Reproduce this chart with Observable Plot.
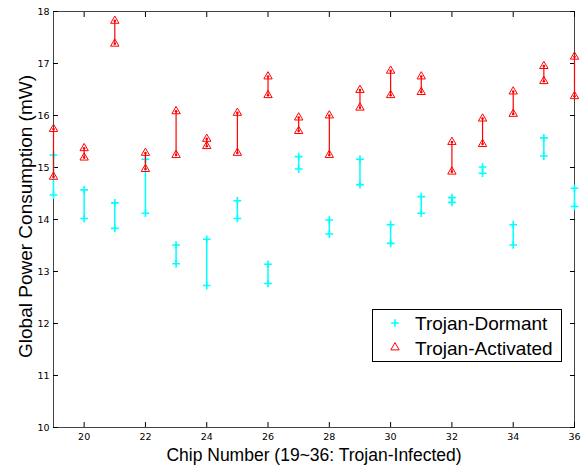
<!DOCTYPE html>
<html><head><meta charset="utf-8">
<script src="https://cdn.jsdelivr.net/npm/d3@7"></script>
<script src="https://cdn.jsdelivr.net/npm/@observablehq/plot@0.6"></script>
<style>
html,body{margin:0;padding:0;background:#fff;}
#chart{position:relative;width:585px;height:466px;}
</style></head><body><div id="chart"></div>
<script>
const chips = [19,20,21,22,23,24,25,26,27,28,29,30,31,32,33,34,35,36];
const dormantMax = [15.24,14.57,14.32,15.16,13.51,13.62,14.36,13.14,15.21,13.99,15.16,13.90,14.44,14.42,15.01,13.90,15.57,14.60];
const dormantMin = [14.47,14.02,13.83,14.12,13.15,12.73,14.02,12.77,14.97,13.72,14.67,13.54,14.12,14.33,14.89,13.51,15.22,14.25];
const activeMax  = [15.74,15.37,17.82,15.28,16.08,15.55,16.05,16.75,15.96,16.00,16.49,16.86,16.75,15.49,15.94,16.46,16.95,17.13];
const activeMin  = [14.82,15.19,17.38,14.97,15.24,15.41,15.28,16.39,15.70,15.24,16.15,16.39,16.45,14.92,15.45,16.03,16.66,16.37];
const xTicks = [20,22,24,26,28,30,32,34,36];
const yTicks = [10,11,12,13,14,15,16,17,18];
const xLabel = "Chip Number (19~36: Trojan-Infected)";
const yLabel = "Global Power Consumption (mW)";
const seriesNames = ["Trojan-Dormant","Trojan-Activated"];

const data = chips.map((c,i)=>({chip:c,dMin:dormantMin[i],dMax:dormantMax[i],aMin:activeMin[i],aMax:activeMax[i]}));
const dPts = data.flatMap(d=>[{chip:d.chip,v:d.dMin},{chip:d.chip,v:d.dMax}]);
const aPts = data.flatMap(d=>[{chip:d.chip,v:d.aMin},{chip:d.chip,v:d.aMax}]);

const CYAN = "#00ffff", RED = "#ff0000";
const sans = "'Liberation Sans', Arial, Helvetica, sans-serif";

const plot = Plot.plot({
  width:585, height:466,
  marginLeft:53, marginRight:11, marginTop:11, marginBottom:39,
  x:{domain:[19,36]}, y:{domain:[10,18]},
  style:{fontFamily:"'DejaVu Sans', sans-serif", fontSize:"9.5px", background:"#fff", color:"#000", overflow:"visible"},
  marks:[
    Plot.frame({stroke:"#444"}),
    Plot.axisX({anchor:"bottom", ticks:xTicks, tickSize:-5, tickPadding:11, label:null}),
    Plot.axisX({anchor:"top", ticks:xTicks, tickSize:-5, tickFormat:()=>"", label:null}),
    Plot.axisY({anchor:"left", ticks:yTicks, tickSize:-5, tickPadding:9, label:null}),
    Plot.axisY({anchor:"right", ticks:yTicks, tickSize:-5, tickFormat:()=>"", label:null}),
    Plot.text([xLabel], {text:d=>d, frameAnchor:"bottom", dy:28, lineAnchor:"middle", textAnchor:"middle", fontSize:17.5, fontFamily:sans}),
    Plot.text([yLabel], {text:d=>d, frameAnchor:"left", rotate:-90, dx:-28, dy:-3, lineAnchor:"middle", textAnchor:"middle", fontSize:19, fontFamily:sans}),
    Plot.ruleX(data, {x:"chip", y1:"dMin", y2:"dMax", stroke:CYAN, strokeWidth:1.5}),
    Plot.dot(dPts, {x:"chip", y:"v", symbol:"plus", r:2.6, stroke:CYAN, strokeWidth:1.6}),
    Plot.ruleX(data, {x:"chip", y1:"aMin", y2:"aMax", stroke:RED, strokeWidth:1.2}),
    Plot.dot(aPts, {x:"chip", y:"v", r:1.3, fill:RED, stroke:null}),
    Plot.dot(aPts, {x:"chip", y:"v", symbol:"triangle2", r:4, stroke:RED, fill:"none", strokeWidth:1})
  ]
});
document.getElementById("chart").appendChild(plot);

// legend
const lg = d3.select("#chart").append("svg").attr("width",191).attr("height",54)
  .style("position","absolute").style("left","372px").style("top","309px");
lg.append("rect").attr("x",0.5).attr("y",0.5).attr("width",189).attr("height",52).attr("fill","#fff").attr("stroke","#000");
const markers = [
  {path:d3.symbol(d3.symbolPlus, Math.PI*2.6*2.6)(), stroke:CYAN, sw:1.6},
  {path:d3.symbol(d3.symbolTriangle2, Math.PI*16)(), stroke:RED, sw:1}
];
seriesNames.forEach((name,i)=>{
  lg.append("path").attr("d",markers[i].path).attr("transform",`translate(23,${14+i*24.5})`)
    .attr("fill","none").attr("stroke",markers[i].stroke).attr("stroke-width",markers[i].sw);
  lg.append("text").attr("x",43).attr("y",20.5+i*25).text(name)
    .style("font-family",sans).style("font-size","19px").attr("fill","#000");
});
</script></body></html>
